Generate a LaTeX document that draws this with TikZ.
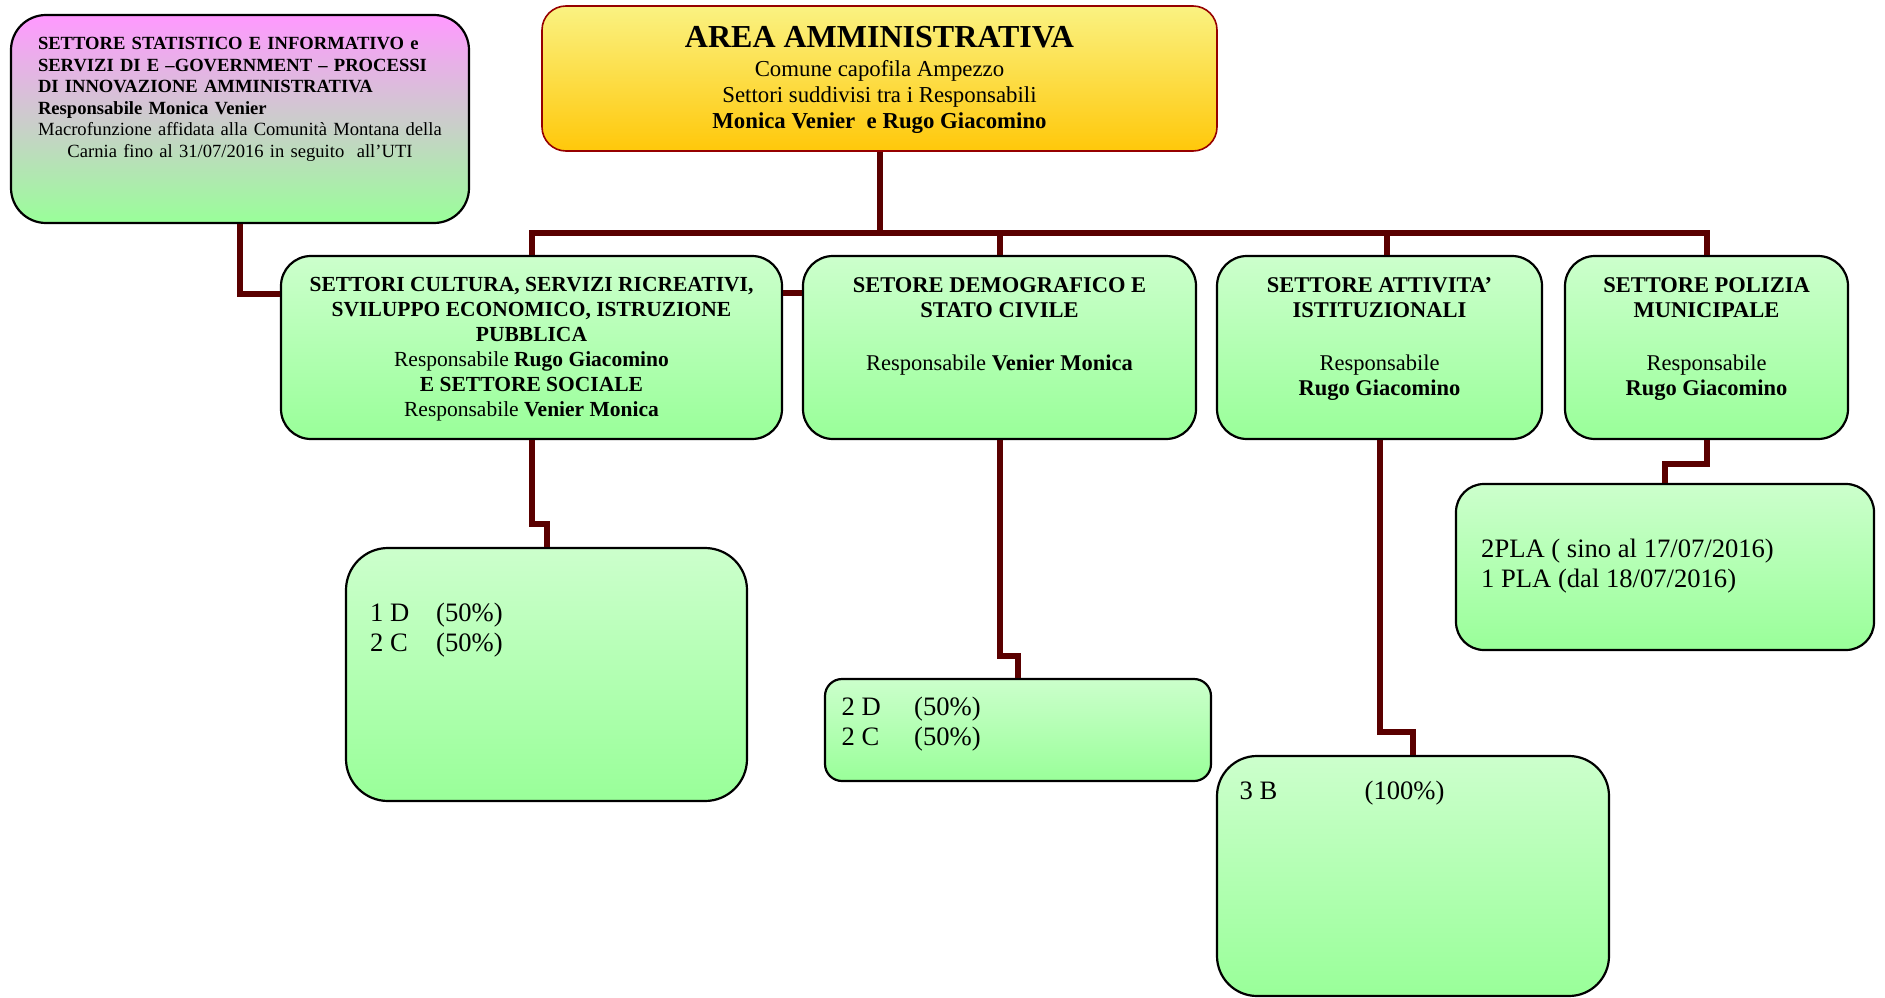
\documentclass[tikz,border=0pt]{standalone}
\usepackage{fontspec}
\setmainfont{Liberation Serif}
\usetikzlibrary{calc}

\definecolor{linkred}{RGB}{90,0,0}
\definecolor{mintTop}{RGB}{204,255,204}
\definecolor{mintBot}{RGB}{153,255,153}
\definecolor{pinkTop}{RGB}{255,153,255}
\definecolor{goldTop}{RGB}{250,242,130}
\definecolor{goldBot}{RGB}{255,200,10}
\definecolor{goldLine}{RGB}{150,0,0}

\begin{document}
\begin{tikzpicture}[x=1pt, y=-1pt,
    box/.style={draw=black, line width=2.2pt, top color=mintTop, bottom color=mintBot, rounded corners=30pt, inner sep=0pt},
    link/.style={draw=linkred, line width=6pt},
    head/.style={inner sep=0pt, anchor=north, align=center, font=\fontsize{22.5}{25}\selectfont},
    staff/.style={inner sep=0pt, anchor=north west, align=left, font=\fontsize{26.6}{30}\selectfont}]
    \useasboundingbox (0,0) rectangle (1885,998);

    % boxes
    \node [box, top color=goldTop, bottom color=goldBot, draw=goldLine, line width=1.6pt, rounded corners=24pt, minimum width=675pt, minimum height=145pt] (area) at (879.5,78.5) {};
    \node [box, top color=pinkTop, rounded corners=35pt, minimum width=458pt, minimum height=208pt] (stat) at (240,119) {};
    \node [box, minimum width=501pt, minimum height=183pt] (sectA) at (531.5,347.5) {};
    \node [box, minimum width=393pt, minimum height=183pt] (sectB) at (999.5,347.5) {};
    \node [box, minimum width=325pt, minimum height=183pt] (sectC) at (1379.5,347.5) {};
    \node [box, minimum width=283pt, minimum height=183pt] (sectD) at (1706.5,347.5) {};
    \node [box, rounded corners=42pt, minimum width=401pt, minimum height=253pt] (staffA) at (546.5,674.5) {};
    \node [box, rounded corners=17pt, minimum width=386pt, minimum height=102pt] (staffB) at (1018,730) {};
    \node [box, rounded corners=40pt, minimum width=392pt, minimum height=240pt] (staffC) at (1413,876) {};
    \node [box, rounded corners=28pt, minimum width=418pt, minimum height=166pt] (staffD) at (1665,567) {};

    % texts
    \node [inner sep=0pt, anchor=north, align=center, font=\fontsize{22.8}{25.7}\selectfont] (areatext) at (879.5,26.5)
        {{\fontsize{32}{32}\selectfont\bfseries AREA AMMINISTRATIVA}\\[3.3pt]
        Comune capofila Ampezzo\\
        Settori suddivisi tra i Responsabili\\
        \textbf{Monica Venier\ \ e Rugo Giacomino}};
    \node [inner sep=0pt, anchor=north, text width=404pt, align=left, font=\fontsize{18.6}{21.6}\selectfont] (stattext) at (240,37)
        {\textbf{SETTORE STATISTICO E INFORMATIVO e}\\
        \textbf{SERVIZI DI E –GOVERNMENT – PROCESSI}\\
        \textbf{DI INNOVAZIONE AMMINISTRATIVA}\\
        \textbf{Responsabile Monica Venier}\par
        {\centering Macrofunzione affidata alla Comunità Montana della\\
        Carnia fino al 31/07/2016 in seguito\ \ all’UTI\par}};
    \node [head, font=\fontsize{21.5}{25}\selectfont] (sectAtext) at (531.5,277)
        {\textbf{SETTORI CULTURA, SERVIZI RICREATIVI,}\\
        \textbf{SVILUPPO ECONOMICO, ISTRUZIONE}\\
        \textbf{PUBBLICA}\\
        Responsabile \textbf{Rugo Giacomino}\\
        \textbf{E SETTORE SOCIALE}\\
        Responsabile \textbf{Venier Monica}};
    \node [head] (sectBtext) at (999.5,277.5)
        {\textbf{SETORE DEMOGRAFICO E}\\ \textbf{STATO CIVILE}\\[28pt] Responsabile \textbf{Venier Monica}};
    \node [head] (sectCtext) at (1379.5,277.5)
        {\textbf{SETTORE ATTIVITA’}\\ \textbf{ISTITUZIONALI}\\[28pt] Responsabile\\ \textbf{Rugo Giacomino}};
    \node [head] (sectDtext) at (1706.5,277.5)
        {\textbf{SETTORE POLIZIA}\\ \textbf{MUNICIPALE}\\[28pt] Responsabile\\ \textbf{Rugo Giacomino}};
    \node [staff] (staffAtext) at (370,603) {\makebox[66pt][l]{1 D}(50\%)\\ \makebox[66pt][l]{2 C}(50\%)};
    \node [staff] (staffBtext) at (841.5,697) {\makebox[72.5pt][l]{2 D}(50\%)\\ \makebox[72.5pt][l]{2 C}(50\%)};
    \node [staff] (staffCtext) at (1239.5,781) {\makebox[125pt][l]{3 B}(100\%)};
    \node [staff] (staffDtext) at (1481,539) {2PLA ( sino al 17/07/2016)\\ 1 PLA (dal 18/07/2016)};

    % connectors
    \draw [link] (area.south) -- ++(0,81) -| (sectA.north);
    \draw [link] (area.south) -- ++(0,81) -| (sectB.north);
    \draw [link] (area.south) -- ++(0,81) -| ([xshift=7.5pt]sectC.north);
    \draw [link] (area.south) -- ++(0,81) -| (sectD.north);
    \draw [link] (stat.south) |- ($(sectA.north west)+(0,39)$);
    \draw [link] ($(sectA.north east)+(0,38.5)$) -- ($(sectB.north west)+(0,38.5)$);
    \draw [link] (sectA.south) -- ++(0,84) -| (staffA.north);
    \draw [link] (sectB.south) -- ++(0,216) -| (staffB.north);
    \draw [link] (sectC.south) -- ++(0,292) -| (staffC.north);
    \draw [link] (sectD.south) -- ++(0,24) -| (staffD.north);
\end{tikzpicture}
\end{document}
